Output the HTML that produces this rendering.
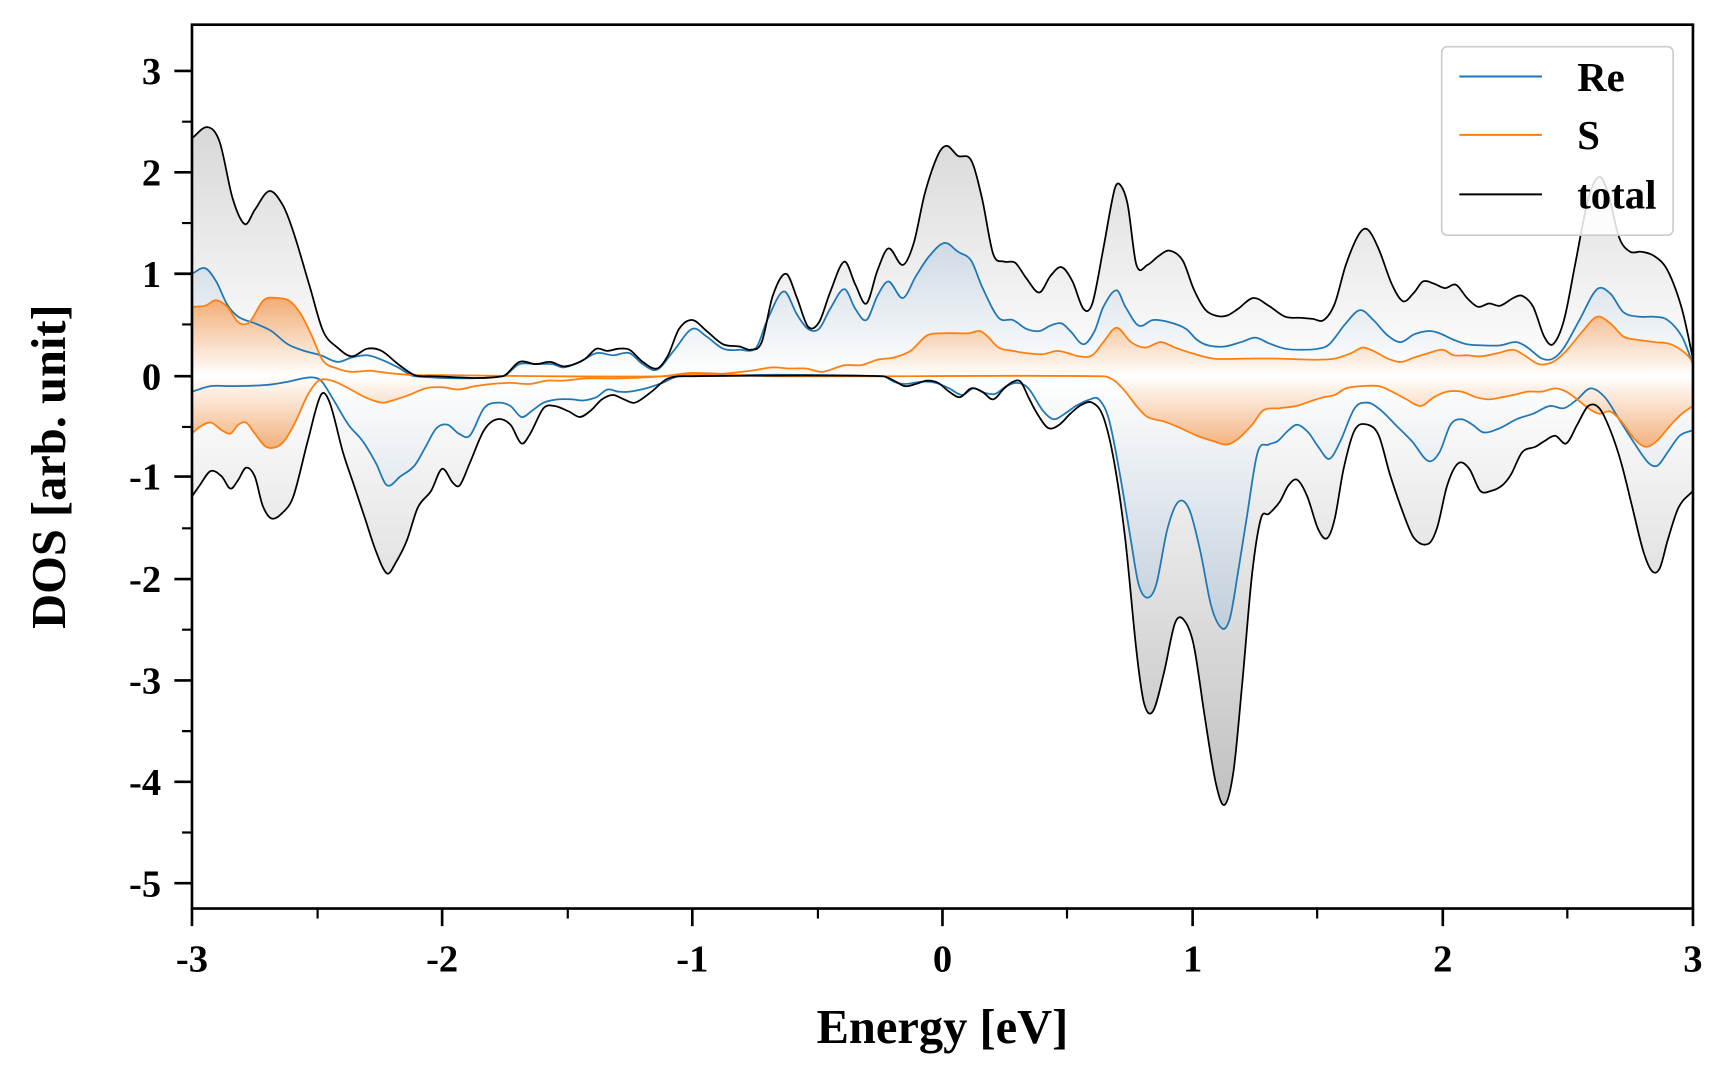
<!DOCTYPE html>
<html><head><meta charset="utf-8"><style>html,body{margin:0;padding:0;background:#fff}svg{display:block}</style></head><body>
<svg id="s" width="1728" height="1080" viewBox="0 0 1568 980" xmlns="http://www.w3.org/2000/svg" font-family="'Liberation Serif',serif" font-weight="bold">
<defs>
<linearGradient id="gT" gradientUnits="userSpaceOnUse" x1="0" y1="64" x2="0" y2="801">
<stop offset="0" stop-color="#cfcfcf"/><stop offset="0.376" stop-color="#ffffff"/><stop offset="1" stop-color="#b5b5b5"/></linearGradient>
<linearGradient id="gR" gradientUnits="userSpaceOnUse" x1="0" y1="200" x2="0" y2="600">
<stop offset="0" stop-color="#c5d3e0"/><stop offset="0.3525" stop-color="#ffffff"/><stop offset="1" stop-color="#b9c8d6"/></linearGradient>
<linearGradient id="gS" gradientUnits="userSpaceOnUse" x1="0" y1="260" x2="0" y2="420">
<stop offset="0" stop-color="#f0a060"/><stop offset="0.506" stop-color="#ffffff"/><stop offset="1" stop-color="#f0a060"/></linearGradient>
</defs>
<g transform="translate(1.2,0.4)">
<g stroke-linejoin="round" fill="none">
<polygon class="sm" fill="url(#gT)" points="173,341 173,125 187,115 198,128 210,180 221,203 230,190 243,173 255,185 265,210 280,260 292,300 305,315 318,323 332,316 345,318 360,330 375,340 390,341 455,341 470,328 485,330 498,328 510,332 520,330 530,325 540,316 550,318 560,316 570,317 582,328 595,334 605,322 615,298 627,290 640,300 655,312 670,314 680,317 690,310 700,268 712,248 722,270 732,296 742,292 752,265 765,237 775,258 785,275 795,245 805,225 818,240 828,220 838,175 850,140 858,132 868,141 880,145 890,180 900,230 910,237 920,238 930,252 942,265 952,250 962,242 972,255 982,280 990,275 1000,225 1010,172 1015,167 1022,185 1030,240 1040,240 1050,232 1060,227 1072,236 1082,262 1092,280 1102,286 1112,286 1122,280 1136,270 1150,277 1165,287 1180,288 1190,289 1200,290 1210,275 1220,240 1232,212 1240,208 1250,226 1262,258 1272,273 1282,265 1290,255 1300,257 1310,261 1320,258 1330,270 1340,278 1350,275 1360,277 1372,270 1380,268 1390,278 1400,305 1408,312 1418,290 1428,240 1440,180 1450,160 1458,175 1468,215 1478,228 1488,228 1500,232 1512,245 1525,280 1535,325 1535,341"/>
<polygon class="sm" fill="url(#gT)" points="173,341 173,450 180,440 190,427 200,432 208,443 215,435 222,424 230,432 237,458 245,470 255,465 265,450 278,400 290,358 298,365 310,410 320,440 330,470 340,500 350,520 358,510 368,490 378,460 390,445 400,425 410,438 416,440 425,420 438,390 450,380 462,385 472,402 480,393 492,370 502,368 515,373 525,378 535,372 545,362 555,358 565,362 575,365 590,355 605,343 627,341 800,341 810,345 820,350 830,348 840,345 850,347 860,355 870,360 880,352 890,355 900,362 910,352 918,346 925,346 932,360 940,375 950,388 960,385 970,375 980,367 990,365 1000,378 1010,420 1020,490 1030,590 1037,638 1045,645 1055,610 1065,565 1073,562 1082,585 1092,650 1102,710 1110,730 1118,700 1126,620 1135,520 1143,470 1150,466 1160,455 1168,440 1176,435 1185,450 1195,480 1203,488 1210,470 1218,425 1228,390 1240,385 1250,395 1260,430 1272,465 1282,488 1295,493 1303,478 1312,440 1322,420 1332,425 1342,445 1352,445 1362,440 1370,430 1380,410 1392,405 1400,400 1410,395 1420,402 1430,385 1440,368 1450,370 1460,390 1470,420 1480,460 1490,500 1498,518 1505,515 1512,490 1522,460 1535,445 1535,341"/>
<polygon class="sm" fill="url(#gR)" points="173,341 173,248 185,243 195,255 205,276 215,287 230,293 245,300 260,312 275,318 290,322 305,328 318,324 332,322 345,326 360,333 375,341 455,341 470,330 485,330 500,330 510,333 525,328 540,320 555,322 570,320 582,330 595,335 610,318 627,298 640,305 655,316 670,317 685,315 695,290 710,264 722,285 732,298 742,298 752,280 765,262 775,280 785,290 795,268 805,255 818,270 830,250 842,232 856,220 868,228 880,236 890,260 905,288 918,290 930,298 942,300 952,295 962,293 970,300 982,312 992,300 1000,278 1012,263 1020,278 1032,295 1045,290 1060,292 1075,298 1085,308 1095,313 1110,314 1125,310 1138,306 1150,311 1165,316 1180,317 1195,316 1205,312 1220,293 1233,281 1245,290 1258,304 1270,310 1282,303 1295,300 1305,302 1318,308 1330,312 1345,313 1360,313 1375,310 1385,315 1398,325 1408,325 1418,315 1432,290 1448,262 1460,266 1472,283 1487,287 1500,287 1512,290 1525,305 1535,330 1535,341"/>
<polygon class="sm" fill="url(#gR)" points="173,341 173,355 190,350 210,350 240,349 260,346 280,342 290,345 300,360 315,385 328,400 340,420 350,440 362,432 375,422 385,405 395,388 405,385 415,393 425,395 438,370 450,365 462,368 472,378 482,372 492,365 505,362 518,362 528,363 540,360 550,353 560,355 570,355 585,352 600,347 615,341 800,341 810,346 820,348 835,346 848,347 860,352 872,358 882,352 892,356 902,357 912,350 922,347 932,352 945,372 955,380 965,375 975,368 988,362 996,362 1005,380 1015,430 1025,490 1032,530 1040,542 1048,530 1058,480 1068,455 1078,462 1088,500 1098,550 1108,570 1115,560 1122,520 1130,470 1140,410 1150,403 1158,400 1168,390 1176,385 1186,392 1195,405 1205,416 1215,400 1228,370 1240,365 1252,372 1265,385 1280,400 1295,418 1305,410 1315,385 1325,380 1335,385 1345,392 1360,388 1375,380 1390,375 1405,368 1418,370 1430,362 1442,352 1455,360 1468,380 1482,402 1495,420 1503,422 1512,410 1523,395 1535,390 1535,341"/>
<polygon class="sm" fill="url(#gS)" points="173,341 173,278 185,277 195,272 205,278 215,292 225,292 238,272 250,270 262,273 272,285 282,305 292,327 305,334 318,337 335,336 350,338 375,340 400,340 500,341 600,341 627,339 650,339 680,336 700,333 715,334 730,334 745,337 765,331 780,331 795,326 810,324 825,318 840,304 855,302 868,302 878,302 888,300 895,305 905,315 918,318 930,320 945,321 958,318 968,320 978,323 990,322 1000,310 1012,297 1025,310 1038,315 1052,310 1065,315 1080,320 1100,325 1130,325 1160,325 1190,326 1210,325 1225,320 1235,315 1245,318 1258,325 1270,328 1282,324 1295,320 1308,317 1318,322 1330,322 1342,323 1358,320 1372,317 1382,322 1395,330 1408,328 1420,318 1435,300 1448,287 1460,293 1472,305 1485,308 1500,310 1515,312 1528,320 1535,328 1535,341"/>
<polygon class="sm" fill="url(#gS)" points="173,341 173,393 180,387 190,383 200,390 208,393 215,385 222,383 230,393 240,405 250,405 258,398 268,380 278,358 288,345 300,345 315,352 330,360 345,365 355,363 370,358 385,352 400,351 415,353 430,350 445,348 462,347 480,348 495,345 510,345 530,343 560,343 600,341 627,338 700,341 1000,341 1010,345 1020,355 1030,368 1040,378 1055,382 1070,388 1085,395 1100,400 1112,403 1122,398 1135,385 1145,372 1160,370 1175,368 1190,363 1200,360 1210,358 1220,352 1235,350 1250,350 1262,355 1275,362 1288,368 1300,360 1312,355 1325,355 1338,360 1350,362 1362,360 1372,358 1385,355 1398,355 1410,352 1420,355 1430,362 1440,370 1450,375 1460,373 1470,382 1482,398 1492,405 1502,400 1515,385 1525,375 1535,368 1535,341"/>
<g stroke-width="1.6">
<polyline class="sm" stroke="#1f77b4" points="173,248 185,243 195,255 205,276 215,287 230,293 245,300 260,312 275,318 290,322 305,328 318,324 332,322 345,326 360,333 375,341 455,341 470,330 485,330 500,330 510,333 525,328 540,320 555,322 570,320 582,330 595,335 610,318 627,298 640,305 655,316 670,317 685,315 695,290 710,264 722,285 732,298 742,298 752,280 765,262 775,280 785,290 795,268 805,255 818,270 830,250 842,232 856,220 868,228 880,236 890,260 905,288 918,290 930,298 942,300 952,295 962,293 970,300 982,312 992,300 1000,278 1012,263 1020,278 1032,295 1045,290 1060,292 1075,298 1085,308 1095,313 1110,314 1125,310 1138,306 1150,311 1165,316 1180,317 1195,316 1205,312 1220,293 1233,281 1245,290 1258,304 1270,310 1282,303 1295,300 1305,302 1318,308 1330,312 1345,313 1360,313 1375,310 1385,315 1398,325 1408,325 1418,315 1432,290 1448,262 1460,266 1472,283 1487,287 1500,287 1512,290 1525,305 1535,330"/>
<polyline class="sm" stroke="#1f77b4" points="173,355 190,350 210,350 240,349 260,346 280,342 290,345 300,360 315,385 328,400 340,420 350,440 362,432 375,422 385,405 395,388 405,385 415,393 425,395 438,370 450,365 462,368 472,378 482,372 492,365 505,362 518,362 528,363 540,360 550,353 560,355 570,355 585,352 600,347 615,341 800,341 810,346 820,348 835,346 848,347 860,352 872,358 882,352 892,356 902,357 912,350 922,347 932,352 945,372 955,380 965,375 975,368 988,362 996,362 1005,380 1015,430 1025,490 1032,530 1040,542 1048,530 1058,480 1068,455 1078,462 1088,500 1098,550 1108,570 1115,560 1122,520 1130,470 1140,410 1150,403 1158,400 1168,390 1176,385 1186,392 1195,405 1205,416 1215,400 1228,370 1240,365 1252,372 1265,385 1280,400 1295,418 1305,410 1315,385 1325,380 1335,385 1345,392 1360,388 1375,380 1390,375 1405,368 1418,370 1430,362 1442,352 1455,360 1468,380 1482,402 1495,420 1503,422 1512,410 1523,395 1535,390"/>
<polyline class="sm" stroke="#ff7f0e" points="173,278 185,277 195,272 205,278 215,292 225,292 238,272 250,270 262,273 272,285 282,305 292,327 305,334 318,337 335,336 350,338 375,340 400,340 500,341 600,341 627,339 650,339 680,336 700,333 715,334 730,334 745,337 765,331 780,331 795,326 810,324 825,318 840,304 855,302 868,302 878,302 888,300 895,305 905,315 918,318 930,320 945,321 958,318 968,320 978,323 990,322 1000,310 1012,297 1025,310 1038,315 1052,310 1065,315 1080,320 1100,325 1130,325 1160,325 1190,326 1210,325 1225,320 1235,315 1245,318 1258,325 1270,328 1282,324 1295,320 1308,317 1318,322 1330,322 1342,323 1358,320 1372,317 1382,322 1395,330 1408,328 1420,318 1435,300 1448,287 1460,293 1472,305 1485,308 1500,310 1515,312 1528,320 1535,328"/>
<polyline class="sm" stroke="#ff7f0e" points="173,393 180,387 190,383 200,390 208,393 215,385 222,383 230,393 240,405 250,405 258,398 268,380 278,358 288,345 300,345 315,352 330,360 345,365 355,363 370,358 385,352 400,351 415,353 430,350 445,348 462,347 480,348 495,345 510,345 530,343 560,343 600,341 627,338 700,341 1000,341 1010,345 1020,355 1030,368 1040,378 1055,382 1070,388 1085,395 1100,400 1112,403 1122,398 1135,385 1145,372 1160,370 1175,368 1190,363 1200,360 1210,358 1220,352 1235,350 1250,350 1262,355 1275,362 1288,368 1300,360 1312,355 1325,355 1338,360 1350,362 1362,360 1372,358 1385,355 1398,355 1410,352 1420,355 1430,362 1440,370 1450,375 1460,373 1470,382 1482,398 1492,405 1502,400 1515,385 1525,375 1535,368"/>
<polyline class="sm" stroke="#000" points="173,125 187,115 198,128 210,180 221,203 230,190 243,173 255,185 265,210 280,260 292,300 305,315 318,323 332,316 345,318 360,330 375,340 390,341 455,341 470,328 485,330 498,328 510,332 520,330 530,325 540,316 550,318 560,316 570,317 582,328 595,334 605,322 615,298 627,290 640,300 655,312 670,314 680,317 690,310 700,268 712,248 722,270 732,296 742,292 752,265 765,237 775,258 785,275 795,245 805,225 818,240 828,220 838,175 850,140 858,132 868,141 880,145 890,180 900,230 910,237 920,238 930,252 942,265 952,250 962,242 972,255 982,280 990,275 1000,225 1010,172 1015,167 1022,185 1030,240 1040,240 1050,232 1060,227 1072,236 1082,262 1092,280 1102,286 1112,286 1122,280 1136,270 1150,277 1165,287 1180,288 1190,289 1200,290 1210,275 1220,240 1232,212 1240,208 1250,226 1262,258 1272,273 1282,265 1290,255 1300,257 1310,261 1320,258 1330,270 1340,278 1350,275 1360,277 1372,270 1380,268 1390,278 1400,305 1408,312 1418,290 1428,240 1440,180 1450,160 1458,175 1468,215 1478,228 1488,228 1500,232 1512,245 1525,280 1535,325"/>
<polyline class="sm" stroke="#000" points="173,450 180,440 190,427 200,432 208,443 215,435 222,424 230,432 237,458 245,470 255,465 265,450 278,400 290,358 298,365 310,410 320,440 330,470 340,500 350,520 358,510 368,490 378,460 390,445 400,425 410,438 416,440 425,420 438,390 450,380 462,385 472,402 480,393 492,370 502,368 515,373 525,378 535,372 545,362 555,358 565,362 575,365 590,355 605,343 627,341 800,341 810,345 820,350 830,348 840,345 850,347 860,355 870,360 880,352 890,355 900,362 910,352 918,346 925,346 932,360 940,375 950,388 960,385 970,375 980,367 990,365 1000,378 1010,420 1020,490 1030,590 1037,638 1045,645 1055,610 1065,565 1073,562 1082,585 1092,650 1102,710 1110,730 1118,700 1126,620 1135,520 1143,470 1150,466 1160,455 1168,440 1176,435 1185,450 1195,480 1203,488 1210,470 1218,425 1228,390 1240,385 1250,395 1260,430 1272,465 1282,488 1295,493 1303,478 1312,440 1322,420 1332,425 1342,445 1352,445 1362,440 1370,430 1380,410 1392,405 1400,400 1410,395 1420,402 1430,385 1440,368 1450,370 1460,390 1470,420 1480,460 1490,500 1498,518 1505,515 1512,490 1522,460 1535,445"/>
</g>
</g>
<rect x="173" y="22" width="1362" height="802" fill="none" stroke="#000" stroke-width="2.4"/>
<g stroke="#000" stroke-width="2.4">
<path d="M173,64h-16M173,156h-16M173,248h-16M173,341h-16M173,432h-16M173,525h-16M173,617h-16M173,709h-16M173,801h-16"/>
<path d="M173,110h-9M173,202h-9M173,294h-9M173,387h-9M173,479h-9M173,571h-9M173,663h-9M173,755h-9" stroke-width="2"/>
<path d="M173,824v16M400,824v16M627,824v16M854,824v16M1081,824v16M1308,824v16M1535,824v16"/>
<path d="M287,824v9M514,824v9M741,824v9M967,824v9M1194,824v9M1421,824v9" stroke-width="2"/>
</g>
<g font-size="35" text-anchor="end" fill="#000">
<text x="145" y="76">3</text><text x="145" y="168">2</text><text x="145" y="260">1</text><text x="145" y="353">0</text>
<text x="145" y="444">-1</text><text x="145" y="537">-2</text><text x="145" y="629">-3</text><text x="145" y="721">-4</text><text x="145" y="813">-5</text>
</g>
<g font-size="35" text-anchor="middle" fill="#000">
<text x="173" y="881">-3</text><text x="400" y="881">-2</text><text x="627" y="881">-1</text><text x="854" y="881">0</text>
<text x="1081" y="881">1</text><text x="1308" y="881">2</text><text x="1535" y="881">3</text>
</g>
<text x="854" y="946" font-size="44" text-anchor="middle">Energy [eV]</text>
<text transform="translate(58,423) rotate(-90)" font-size="44" text-anchor="middle">DOS [arb. unit]</text>
<rect x="1307" y="42" width="210" height="171" rx="5" fill="#fff" fill-opacity="0.85" stroke="#ccc" stroke-width="1.5"/>
<g stroke-width="1.8">
<line x1="1323" y1="69" x2="1398" y2="69" stroke="#1f77b4"/>
<line x1="1323" y1="122" x2="1398" y2="122" stroke="#ff7f0e"/>
<line x1="1323" y1="176" x2="1398" y2="176" stroke="#000"/>
</g>
<g font-size="37" fill="#000">
<text x="1430" y="82">Re</text><text x="1430" y="135">S</text><text x="1430" y="189">total</text>
</g>
</g>
</svg>
<script>
(function(){
var NS="http://www.w3.org/2000/svg";
document.querySelectorAll(".sm").forEach(function(el){
 var nums=el.getAttribute("points").trim().split(/[\s,]+/).map(Number),p=[];
 for(var i=0;i<nums.length;i+=2)p.push([nums[i],nums[i+1]]);
 var poly=el.tagName.toLowerCase()==="polygon";
 var pts=poly?p.slice(1,p.length-1):p,n=pts.length,m=[];
 for(var k=0;k<n;k++){
  var a=pts[Math.max(k-1,0)],c=pts[Math.min(k+1,n-1)];
  var dx=c[0]-a[0];m.push(dx>0?(c[1]-a[1])/dx:0);
 }
 var d=poly?"M"+p[0][0]+","+p[0][1]+"L"+pts[0][0]+","+pts[0][1]:"M"+pts[0][0]+","+pts[0][1];
 for(var k=0;k<n-1;k++){
  var b=pts[k],c=pts[k+1],h=(c[0]-b[0])/3;
  d+="C"+(b[0]+h).toFixed(1)+","+(b[1]+m[k]*h).toFixed(1)+" "+(c[0]-h).toFixed(1)+","+(c[1]-m[k+1]*h).toFixed(1)+" "+c[0]+","+c[1];
 }
 if(poly)d+="L"+p[p.length-1][0]+","+p[p.length-1][1]+"Z";
 var path=document.createElementNS(NS,"path");
 for(var j=0;j<el.attributes.length;j++){var at=el.attributes[j];if(at.name!=="points"&&at.name!=="class")path.setAttribute(at.name,at.value);}
 path.setAttribute("d",d);
 el.parentNode.replaceChild(path,el);
});
})();
</script>
</body></html>
